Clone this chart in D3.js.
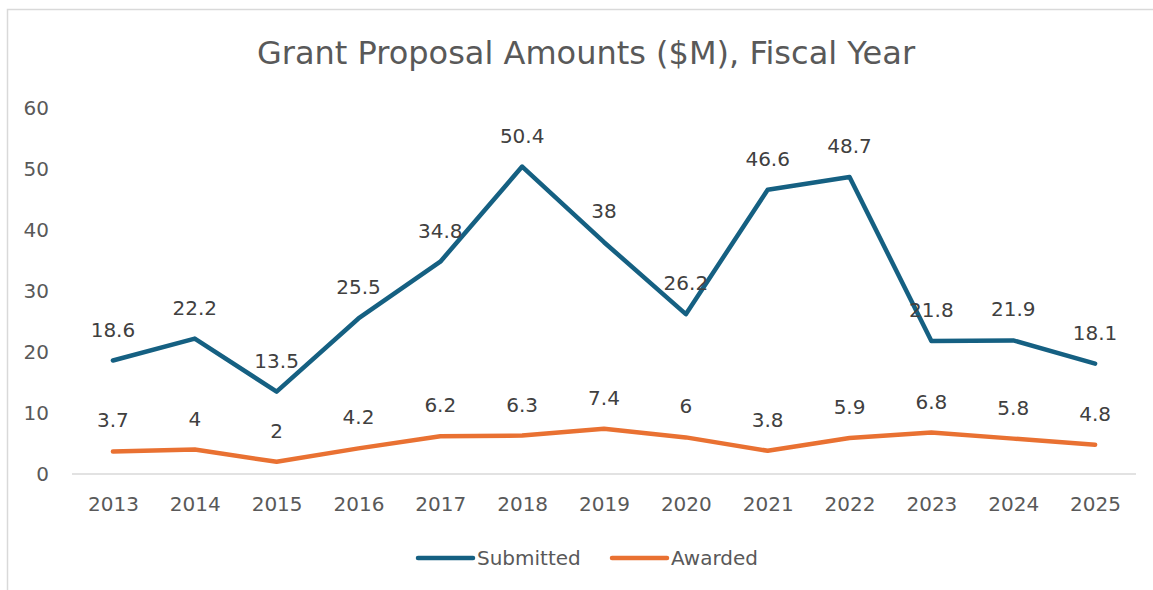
<!DOCTYPE html>
<html>
<head>
<meta charset="utf-8">
<script src="https://cdn.jsdelivr.net/npm/d3@7/dist/d3.min.js"></script>
<style>
  html, body { margin: 0; padding: 0; background: #fff; }
  svg { display: block; }
  text { font-family: "DejaVu Sans", "Liberation Sans", Arial, sans-serif; }
</style>
</head>
<body>
<svg id="chart" width="1153" height="590"></svg>
<script>
// Fiscal years and proposal totals in $M
const years = ["2013","2014","2015","2016","2017","2018","2019","2020","2021","2022","2023","2024","2025"];
const submitted = [18.6, 22.2, 13.5, 25.5, 34.8, 50.4, 38, 26.2, 46.6, 48.7, 21.8, 21.9, 18.1];
const awarded = [3.7, 4, 2, 4.2, 6.2, 6.3, 7.4, 6, 3.8, 5.9, 6.8, 5.8, 4.8];
const yTicks = [0, 10, 20, 30, 40, 50, 60];
const seriesNames = ["Submitted", "Awarded"];
const seriesColors = ["#156082", "#E97132"];

const FONT = "DejaVu Sans, Liberation Sans, Arial, sans-serif";
const svg = d3.select("#chart");
const W = 1153, H = 590;
const plot = { left: 72, right: 1136, top: 108, bottom: 474 };

// chart frame (extends past the visible area on the right and bottom)
svg.append("rect")
  .attr("x", 7.5).attr("y", 9.5)
  .attr("width", W + 20).attr("height", H + 20)
  .attr("fill", "#fff").attr("stroke", "#d9d9d9").attr("stroke-width", 1.5);

const x = d3.scalePoint().domain(years).range([plot.left, plot.right]).padding(0.5);
const y = d3.scaleLinear().domain([0, 60]).range([plot.bottom, plot.top]);

// title
svg.append("text")
  .attr("x", 586).attr("y", 64)
  .attr("text-anchor", "middle")
  .attr("font-size", 32)
  .attr("fill", "#595959")
  .text("Grant Proposal Amounts ($M), Fiscal Year");

// y axis labels
const yAxis = d3.axisLeft(y).tickValues(yTicks).tickSize(0).tickPadding(0);
const gy = svg.append("g").attr("transform", "translate(49,0)").call(yAxis);
gy.select(".domain").remove();
gy.selectAll("text").attr("font-size", 20).attr("fill", "#595959")
  .attr("font-family", FONT);

// x axis with baseline
const xAxis = d3.axisBottom(x).tickSize(0).tickPadding(23);
const gx = svg.append("g").attr("transform", `translate(0,${plot.bottom})`).call(xAxis);
gx.select(".domain").attr("stroke", "#d9d9d9").attr("stroke-width", 1.5)
  .attr("d", `M${plot.left},0H${plot.right}`);
gx.selectAll("text").attr("font-size", 20).attr("fill", "#595959")
  .attr("font-family", FONT);

const line = d3.line().x((d, i) => x(years[i])).y(d => y(d));

[submitted, awarded].forEach((vals, si) => {
  svg.append("path")
    .datum(vals)
    .attr("d", line)
    .attr("fill", "none")
    .attr("stroke", seriesColors[si])
    .attr("stroke-width", 4.5)
    .attr("stroke-linejoin", "round")
    .attr("stroke-linecap", "round");
});

// data labels above each point
[submitted, awarded].forEach((vals) => {
  svg.append("g").selectAll("text")
    .data(vals)
    .join("text")
    .attr("x", (d, i) => x(years[i]))
    .attr("y", d => y(d) - 24)
    .attr("text-anchor", "middle")
    .attr("font-size", 20)
    .attr("fill", "#404040")
    .text(d => d);
});

// legend
const legendItems = [
  { name: seriesNames[0], color: seriesColors[0], x0: 418 },
  { name: seriesNames[1], color: seriesColors[1], x0: 612 }
];
const lg = svg.append("g");
legendItems.forEach(it => {
  lg.append("line")
    .attr("x1", it.x0).attr("x2", it.x0 + 55)
    .attr("y1", 558).attr("y2", 558)
    .attr("stroke", it.color).attr("stroke-width", 4.5)
    .attr("stroke-linecap", "round");
  lg.append("text")
    .attr("x", it.x0 + 59).attr("y", 565)
    .attr("font-size", 20).attr("fill", "#595959")
    .text(it.name);
});
</script>
</body>
</html>
